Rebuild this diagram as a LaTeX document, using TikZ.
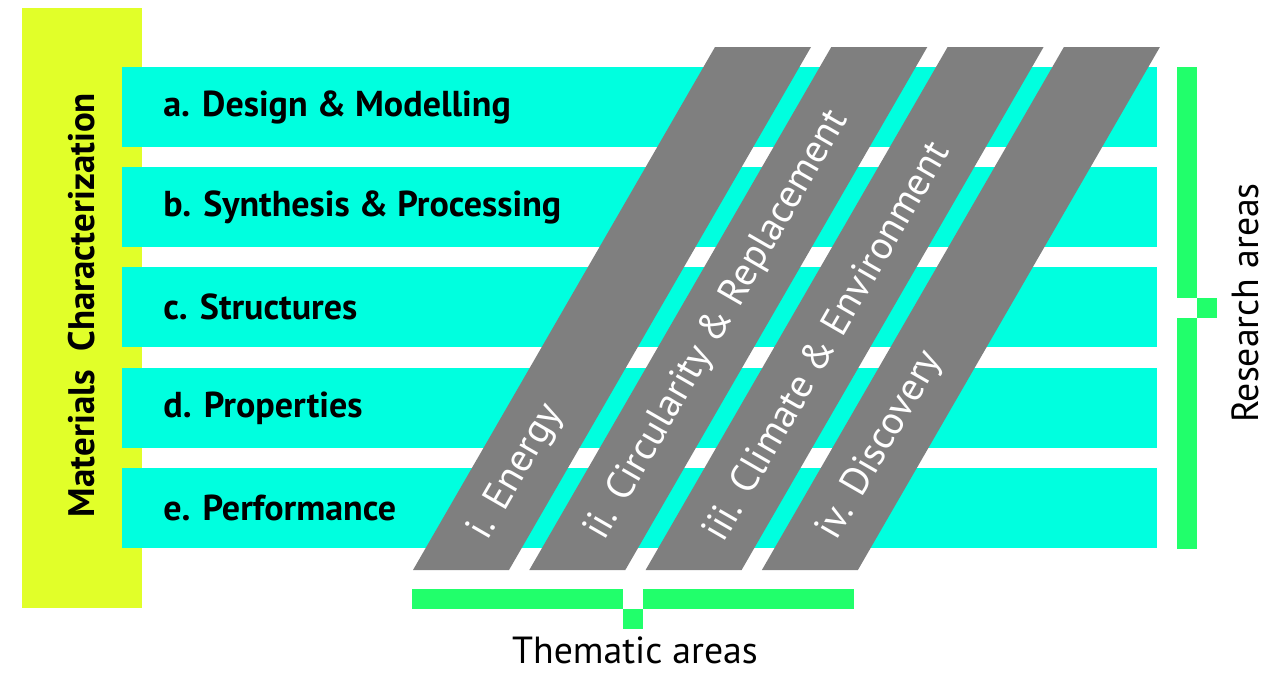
\documentclass[tikz,border=0pt]{standalone}
\usepackage{fontspec}
\setmainfont{PT Sans}
\usepackage{xcolor}
\definecolor{charYellow}{HTML}{E1FF29}
\definecolor{areaCyan}{HTML}{00FFDF}
\definecolor{themeGray}{HTML}{7F7F7F}
\definecolor{braceGreen}{HTML}{21FF6B}

\tikzset{
    rowbar/.style={fill=areaCyan},
    rowlabel/.style={anchor=west, inner sep=0pt, font=\bfseries\fontsize{20.5}{24}\selectfont},
    themestrip/.style={fill=themeGray},
    themelabel/.style={anchor=west, rotate=60, inner sep=0pt, text=white, font=\fontsize{22.5}{26}\selectfont},
    bracepart/.style={fill=braceGreen},
    bracelabel/.style={inner sep=0pt, font=\fontsize{21.5}{25}\selectfont}
}

\begin{document}
\begin{tikzpicture}[x=0.02cm, y=-0.02cm]
    \useasboundingbox (0,0) rectangle (1271,673);

    % Characterization column
    \fill[charYellow] (22,8) rectangle (142,608);
    \node[rotate=90, inner sep=0pt, font=\bfseries\fontsize{21}{25}\selectfont] (charact) at (82,305) {Materials\ \ Characterization};

    % Research area rows
    \fill[rowbar] (122,67) rectangle (1157,147);
    \fill[rowbar] (122,167) rectangle (1157,247);
    \fill[rowbar] (122,267) rectangle (1157,347);
    \fill[rowbar] (122,368) rectangle (1157,448);
    \fill[rowbar] (122,468) rectangle (1157,548);
    \node[rowlabel] (design) at (163,107) {a. Design \& Modelling};
    \node[rowlabel] (synth) at (163,207) {b. Synthesis \& Processing};
    \node[rowlabel] (struct) at (163,307) {c. Structures};
    \node[rowlabel] (props) at (163,408) {d. Properties};
    \node[rowlabel] (perf) at (163,508) {e. Performance};

    % Thematic strips - slanted at 60 degrees
    \fill[themestrip] (413,570) -- (509,570) -- (811,47) -- (715,47) -- cycle;
    \fill[themestrip] (529.3,570) -- (625.3,570) -- (927.3,47) -- (831.3,47) -- cycle;
    \fill[themestrip] (645.6,570) -- (741.6,570) -- (1043.6,47) -- (947.6,47) -- cycle;
    \fill[themestrip] (761.9,570) -- (857.9,570) -- (1159.9,47) -- (1063.9,47) -- cycle;
    \node[themelabel] (energy) at (479,537) {i. Energy};
    \node[themelabel] (circ) at (595.3,537) {ii. Circularity \& Replacement};
    \node[themelabel] (climate) at (711.6,537) {iii. Climate \& Environment};
    \node[themelabel] (discov) at (827.9,537) {iv. Discovery};

    % Right bracket
    \fill[bracepart] (1177,67) rectangle (1197,298);
    \fill[bracepart] (1197,298) rectangle (1217,318);
    \fill[bracepart] (1177,318) rectangle (1197,549);
    \node[bracelabel, rotate=90] (research) at (1245,303) {Research areas};

    % Bottom bracket
    \fill[bracepart] (412,589) rectangle (623,609);
    \fill[bracepart] (623,609) rectangle (643,629);
    \fill[bracepart] (643,589) rectangle (854,609);
    \node[bracelabel, anchor=base] (thematic) at (635,663) {Thematic areas};
\end{tikzpicture}
\end{document}
